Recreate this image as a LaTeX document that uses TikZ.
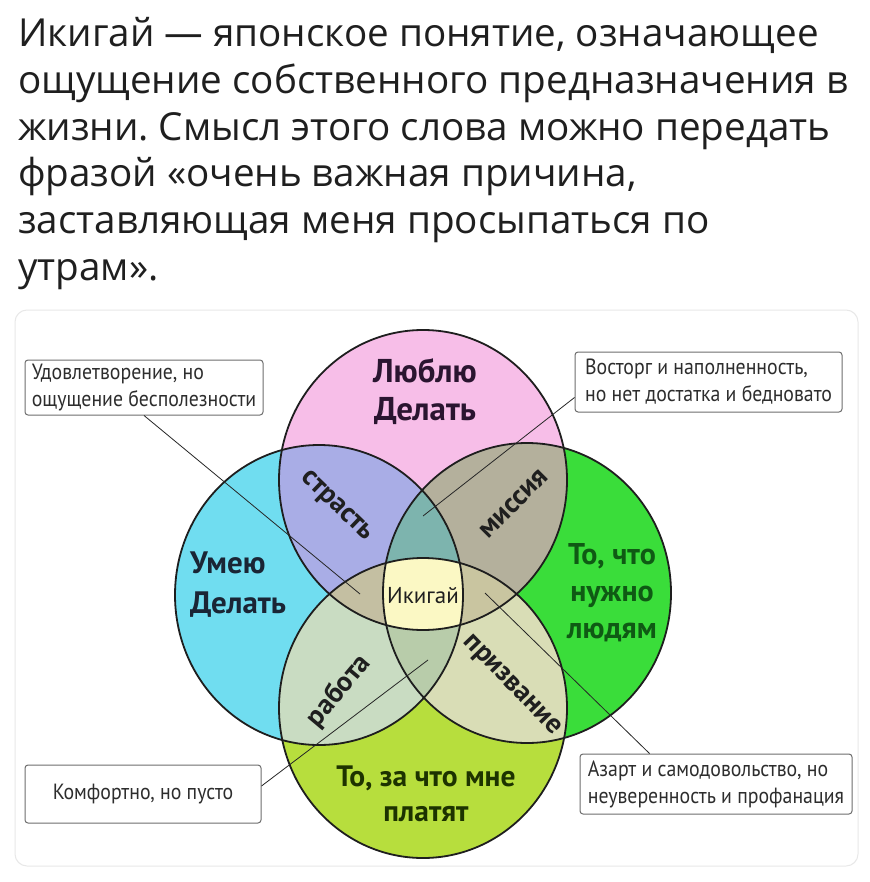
\documentclass[tikz,border=0pt]{standalone}
\usepackage{fontspec}
\setmainfont{PT Sans}
\newfontfamily\headfont{Open Sans}
\newfontfamily\callfont{PT Sans}[FakeStretch=0.9]
\usetikzlibrary{calc}
\frenchspacing
\definecolor{cP}{RGB}{247,190,232}
\definecolor{cB}{RGB}{112,221,240}
\definecolor{cG}{RGB}{58,221,58}
\definecolor{cY}{RGB}{183,222,61}
\definecolor{cPB}{RGB}{169,173,230}
\definecolor{cPG}{RGB}{180,176,156}
\definecolor{cBY}{RGB}{201,220,194}
\definecolor{cGY}{RGB}{217,221,182}
\definecolor{cPBG}{RGB}{125,180,174}
\definecolor{cBGY}{RGB}{184,204,170}
\definecolor{cPBY}{RGB}{196,191,162}
\definecolor{cPGY}{RGB}{201,197,160}
\definecolor{cAll}{RGB}{251,248,196}
\definecolor{outl}{RGB}{30,30,30}
\definecolor{headtext}{RGB}{31,31,31}
\definecolor{boxgray}{RGB}{110,110,110}
\definecolor{calltext}{RGB}{45,45,45}
\definecolor{panelgray}{RGB}{232,232,232}
\definecolor{tP}{RGB}{42,21,48}
\definecolor{tB}{RGB}{26,37,53}
\definecolor{tG}{RGB}{15,90,20}
\definecolor{tY}{RGB}{29,51,0}
\begin{document}
\begin{tikzpicture}[x=1pt,y=-1pt,
  head/.style={anchor=base west, inner sep=0pt, text=headtext, font=\headfont\fontsize{38.6}{46}\selectfont},
  eP/.style={insert path={(423,480) ellipse [x radius=144pt,y radius=150pt]}},
  eB/.style={insert path={(319,595) ellipse [x radius=144pt,y radius=150pt]}},
  eG/.style={insert path={(527,593) ellipse [x radius=144pt,y radius=150pt]}},
  eY/.style={insert path={(423,708) ellipse [x radius=144pt,y radius=150pt]}},
  ring/.style={draw=outl, line width=1.8pt},
  biglabel/.style={inner sep=0pt, align=center, font=\bfseries\fontsize{33}{38}\selectfont},
  sublabel/.style={inner sep=0pt, text=black!88, font=\bfseries\fontsize{28}{30}\selectfont},
  callout/.style={draw=boxgray, line width=1pt, fill=white, rounded corners=3pt, text=calltext,
    font=\callfont\fontsize{22}{27}\selectfont, inner xsep=5pt, inner ysep=0pt},
  conn/.style={draw=black!85, line width=0.8pt}
]
\useasboundingbox (0,0) rectangle (869,882);
\fill[white] (0,0) rectangle (869,882);

% heading
\node[head] (h1) at (18,47) {Икигай — японское понятие, означающее};
\node[head] (h2) at (18,93.6) {ощущение собственного предназначения в};
\node[head] (h3) at (18,140.2) {жизни. Смысл этого слова можно передать};
\node[head] (h4) at (18,186.8) {фразой «очень важная причина,};
\node[head] (h5) at (18,233.4) {заставляющая меня просыпаться по};
\node[head] (h6) at (18,280) {утрам».};

% panel
\draw[panelgray, line width=1pt, rounded corners=12pt] (15,310) rectangle (858,866);

% single fills
\fill[cP, eP];
\fill[cB, eB];
\fill[cG, eG];
\fill[cY, eY];
% pairs
\begin{scope}\clip[eP]; \fill[cPB, eB];\end{scope}
\begin{scope}\clip[eP]; \fill[cPG, eG];\end{scope}
\begin{scope}\clip[eB]; \fill[cBY, eY];\end{scope}
\begin{scope}\clip[eG]; \fill[cGY, eY];\end{scope}
% triples
\begin{scope}\clip[eP]; \clip[eB]; \fill[cPBG, eG];\end{scope}
\begin{scope}\clip[eP]; \clip[eB]; \fill[cPBY, eY];\end{scope}
\begin{scope}\clip[eP]; \clip[eG]; \fill[cPGY, eY];\end{scope}
\begin{scope}\clip[eB]; \clip[eG]; \fill[cBGY, eY];\end{scope}
% all four
\begin{scope}\clip[eP]; \clip[eB]; \clip[eG]; \fill[cAll, eY];\end{scope}
% outlines
\draw[ring, eP];
\draw[ring, eB];
\draw[ring, eG];
\draw[ring, eY];

% main labels
\node[biglabel, text=tP] (lP) at (425,392) {Люблю\\Делать};
\node[biglabel, text=tB, align=left, anchor=west, font=\bfseries\fontsize{31}{40}\selectfont] (lB) at (190,585) {Умею\\Делать};
\node[biglabel, text=tG, font=\bfseries\fontsize{30}{37}\selectfont] (lG) at (612,593) {То, что\\нужно\\людям};
\node[biglabel, text=tY, font=\bfseries\fontsize{29.5}{35}\selectfont] (lY) at (426,794) {То, за что мне\\платят};

% intersection labels
\node[sublabel, rotate=-44] (s1) at (336,507) {страсть};
\node[sublabel, rotate=45] (s2) at (514,504) {миссия};
\node[sublabel, rotate=50] (s3) at (339,691) {работа};
\node[sublabel, rotate=-46] (s4) at (511,686) {призвание};
\node[inner sep=0pt, text=black!88, font=\fontsize{23}{25}\selectfont] (ik) at (423,596) {Икигай};

% callouts
\node[callout, minimum width=238pt, minimum height=55pt, align=left] (b1) at (144,387.5)
  {Удовлетворение, но\\ощущение бесполезности};
\node[callout, minimum width=267pt, minimum height=60pt, align=left] (b2) at (708.5,382)
  {Восторг и наполненность,\\но нет достатка и бедновато};
\node[callout, minimum width=236pt, minimum height=58pt, align=center] (b3) at (143,794)
  {Комфортно, но пусто};
\node[callout, minimum width=272pt, minimum height=60pt, align=left] (b4) at (716,784)
  {Азарт и самодовольство, но\\неуверенность и профанация};

% connector ends
\coordinate (e1) at (360,594);
\coordinate (e2) at (423,516);
\coordinate (e3) at (428,660);
\coordinate (e4) at (485,593);

\draw[conn] (b1.south) -- (e1);
\draw[conn] ($(b2.south west)+(0,-15)$) -- (e2);
\draw[conn] ($(b3.east)+(0,-8)$) -- (e3);
\draw[conn] ($(b4.north west)+(70,0)$) -- (e4);
\end{tikzpicture}
\end{document}
